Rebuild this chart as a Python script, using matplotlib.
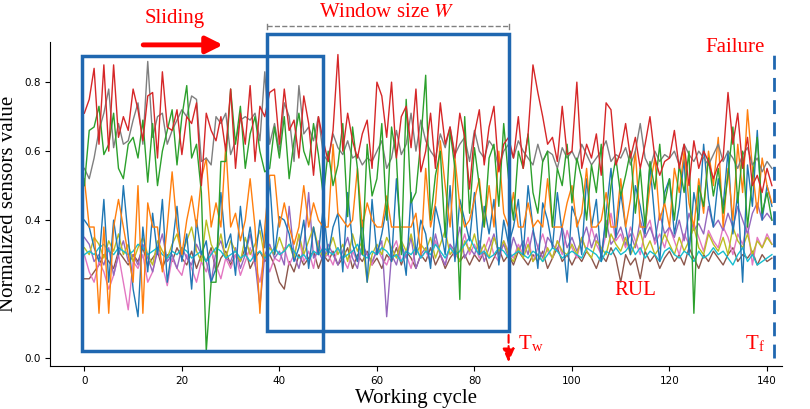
import matplotlib
matplotlib.use("Agg")
import matplotlib.pyplot as plt
import numpy as np
plt.rcParams['mathtext.fontset'] = 'stix'

cycles = np.arange(142)
red = [71,75,84,62,85,60,85,64,70,66,78,72,63,76,77,58,83,67,66,72,59,70,68,74,50,71,66,63,70,60,78,55,71,62,79,57,73,70,77,78,62,78,66,69,58,76,68,53,70,63,57,66,88,60,71,63,58,65,69,55,80,76,64,80,58,70,73,61,78,54,60,71,55,74,62,67,58,71,64,49,65,72,56,67,73,54,62,64,58,70,55,65,85,77,70,62,64,57,73,59,60,80,55,62,58,65,53,74,72,56,60,68,58,64,55,62,70,58,53,57,58,66,55,62,50,63,55,60,57,52,56,58,77,62,71,55,64,50,53,48,55,50]
gray = [55,52,58,66,71,78,61,68,62,63,69,74,62,86,64,70,71,62,66,69,72,70,76,75,57,58,56,70,68,71,59,63,69,70,69,71,63,83,62,68,60,74,70,57,79,65,67,63,70,59,57,65,61,59,63,58,59,56,58,57,60,63,55,58,66,59,62,71,60,69,63,60,58,65,61,67,59,62,64,57,66,60,58,63,61,55,60,62,58,63,60,58,56,62,57,60,59,55,61,58,60,57,62,59,56,58,60,63,57,59,58,61,56,60,68,58,55,60,57,59,58,60,56,62,59,57,60,58,56,59,62,57,60,58,55,59,61,56,58,54,57,55]
green = [50,66,67,73,59,62,71,55,52,62,64,58,69,51,68,50,60,66,72,56,70,79,58,62,48,2,22,22,57,57,78,62,73,55,65,70,60,54,55,67,58,70,52,63,71,60,56,68,59,47,60,50,56,68,41,67,55,30,62,47,52,68,40,67,58,30,75,45,48,63,82,40,53,60,35,66,55,17,70,42,61,50,38,58,62,44,68,52,40,60,55,65,48,42,57,60,38,55,50,62,45,58,52,40,56,48,62,35,50,58,47,53,60,42,55,38,57,49,62,45,52,40,56,48,60,13,50,44,58,47,55,42,53,67,45,60,38,52,64,42,48,40]
orange = [52,38,38,13,38,13,38,46,38,30,22,50,13,45,38,38,25,38,54,38,30,40,47,38,52,58,38,45,38,62,38,42,34,40,52,38,13,38,53,53,38,45,38,33,38,50,38,45,40,38,38,62,42,40,38,40,55,38,45,40,38,38,47,38,38,38,38,38,42,30,55,38,45,63,50,38,58,44,38,40,46,52,38,50,38,60,42,38,48,38,38,45,38,40,38,52,38,38,38,45,50,38,42,55,38,38,40,48,38,38,52,38,46,60,38,38,50,58,40,45,38,55,48,60,45,38,52,42,60,50,64,38,55,40,62,48,72,55,42,58,50,45]
blue = [40,38,32,28,46,22,40,30,50,35,20,12,38,25,42,30,46,22,32,44,28,36,20,40,30,34,22,26,48,32,36,24,44,30,38,28,40,32,52,30,41,40,36,28,32,40,26,38,30,44,30,38,42,25,48,33,28,40,22,46,30,36,44,28,52,34,24,48,30,40,36,26,44,38,30,50,28,46,40,34,48,30,44,36,46,27,40,33,38,46,30,50,38,26,45,40,32,48,36,22,44,40,30,52,38,46,28,42,55,35,48,38,30,50,44,36,56,40,28,48,52,36,44,58,30,48,40,62,46,38,52,44,60,36,48,22,56,44,66,40,50,44]
purple = [35,33,28,30,27,32,24,30,34,28,30,27,33,29,25,31,36,28,30,26,32,29,27,33,30,28,22,31,34,29,28,32,26,30,36,28,15,30,33,29,31,27,44,30,26,32,48,29,31,28,33,30,27,31,35,29,26,33,30,28,31,34,12,30,27,33,29,35,26,30,32,28,36,30,27,33,31,38,29,32,30,34,28,32,36,30,33,29,35,31,34,30,37,32,29,35,33,31,38,32,35,31,34,38,32,36,30,40,33,35,38,33,36,32,40,35,38,34,42,36,38,35,40,34,42,37,39,36,44,38,40,37,42,38,44,40,36,42,45,40,42,40]
pink = [30,25,22,28,25,20,24,30,22,14,28,26,30,22,25,32,27,21,29,26,24,30,26,22,28,25,31,27,23,29,26,30,24,28,32,27,22,30,25,29,28,32,27,30,35,28,31,26,34,29,30,27,32,29,26,31,28,33,30,27,32,29,27,31,34,28,30,26,32,29,31,28,34,30,27,33,29,31,36,30,33,29,31,35,30,28,34,31,29,33,30,35,28,32,36,31,29,34,30,37,32,29,35,31,38,33,30,36,42,34,36,32,38,34,30,37,40,33,36,32,38,34,30,36,33,39,35,31,37,34,32,38,35,30,36,33,39,27,35,32,36,33]
olive = [32,30,35,33,29,34,31,36,30,33,28,32,35,30,27,34,31,29,33,36,30,34,38,31,28,40,33,30,36,29,34,31,28,35,30,33,37,29,32,30,35,31,33,29,36,30,34,38,32,29,31,35,30,33,28,36,31,34,22,30,33,30,35,32,29,34,31,36,30,33,31,35,29,33,37,30,32,28,34,31,36,30,33,29,35,31,34,30,28,32,29,33,28,30,28,32,29,34,31,30,33,30,35,31,29,34,32,30,36,33,31,35,30,33,37,31,34,30,32,36,33,30,35,31,34,38,32,30,36,33,31,35,30,38,34,32,36,30,34,32,35,33]
brown = [23,23,25,27,30,28,26,31,29,27,30,28,32,27,29,31,26,30,28,32,29,27,31,26,30,28,32,25,29,31,27,30,28,32,26,29,31,28,30,27,22,20,28,25,30,27,29,31,26,30,28,31,27,29,32,26,30,28,31,27,29,26,30,28,32,27,31,29,26,30,28,32,27,30,26,29,31,28,30,27,30,28,31,26,29,32,28,30,27,31,29,27,30,28,31,26,29,32,28,30,27,30,28,31,29,26,30,28,32,29,22,30,27,29,23,31,28,30,26,29,31,28,30,27,32,29,26,30,28,31,29,27,30,32,28,30,29,31,27,30,28,29]
cyan = [30,31,30,32,33,31,30,32,31,30,31,33,32,30,31,32,30,29,31,30,32,31,29,30,31,28,30,32,31,29,30,31,29,30,28,30,31,29,30,32,30,31,33,31,29,30,28,31,30,32,31,30,32,29,30,31,33,30,29,31,30,32,31,29,30,28,31,30,32,29,31,30,33,31,29,32,30,31,33,35,32,30,31,29,30,32,31,29,30,31,30,29,31,30,28,30,32,31,29,30,31,30,29,32,31,30,28,31,30,32,30,31,33,30,32,29,31,30,28,31,32,30,29,31,30,28,31,29,30,32,30,31,29,27,30,32,28,30,27,28,29,30]

series = [(brown,'tab:brown'),(pink,'tab:pink'),(purple,'tab:purple'),(olive,'tab:olive'),(cyan,'tab:cyan'),
          (blue,'tab:blue'),(orange,'tab:orange'),(gray,'tab:gray'),(green,'tab:green'),(red,'tab:red')]

fig = plt.figure(figsize=(8.1,4.09), dpi=100)
ax = fig.add_axes([0.062,0.105,0.903,0.792])
for vals,c in series:
    ax.plot(cycles, np.array(vals)/100, color=c, lw=1.0)
ax.set_xlim(-7,143)
ax.set_ylim(-0.023,0.916)
ax.spines['top'].set_visible(False)
ax.spines['right'].set_visible(False)
ax.set_xticks([0,20,40,60,80,100,120,140])
ax.set_yticks([0.0,0.2,0.4,0.6,0.8])
ax.tick_params(labelsize=7.5)
serif = 'Liberation Serif'
ax.set_xlabel('Working cycle', family=serif, fontsize=15, labelpad=2)
ax.set_ylabel('Normalized sensors value', family=serif, fontsize=15, labelpad=4)

bc = '#1f67b0'
ax.add_patch(plt.Rectangle((-0.5,0.02),49.5,0.855, fill=False, ec=bc, lw=2.5, clip_on=False, zorder=5))
ax.add_patch(plt.Rectangle((37.5,0.08),49.5,0.86, fill=False, ec=bc, lw=2.5, clip_on=False, zorder=5))
ax.plot([141.5,141.5],[0.0,0.88], color=bc, lw=2, ls=(0,(5,3)), clip_on=False, zorder=5)
ax.plot([37.5,87],[0.962,0.962], color='gray', lw=1, ls='--', clip_on=False)
ax.plot([37.5,37.5],[0.955,0.969], color='gray', lw=1, clip_on=False)
ax.plot([87,87],[0.955,0.969], color='gray', lw=1, clip_on=False)
ax.text(62,0.975,'Window size $\\it{W}$', color='red', family=serif, fontsize=15, ha='center', va='bottom')
ax.text(18.5,0.985,'Sliding', color='red', family=serif, fontsize=15, ha='center', va='center')
ax.annotate('', xy=(29,0.908), xytext=(11.5,0.908), annotation_clip=False,
            arrowprops=dict(arrowstyle='-|>,head_width=0.5,head_length=1', color='red', lw=3.5))
ax.text(139.5,0.90,'Failure', color='red', family=serif, fontsize=15, ha='right', va='center')
ax.annotate('', xy=(87,-0.02), xytext=(87,0.075), annotation_clip=False,
            arrowprops=dict(arrowstyle='-|>,head_width=0.35,head_length=0.8', color='red', lw=1.5, ls='--'))
ax.text(89,0.04,'T$_\\mathregular{w}$', color='red', family=serif, fontsize=15, va='center')
ax.text(137.5,0.04,'T$_\\mathregular{f}$', color='red', family=serif, fontsize=15, va='center', ha='center')
ax.text(113,0.195,'RUL', color='red', family=serif, fontsize=15, ha='center', va='center')
fig.savefig('out.png', dpi=100)
